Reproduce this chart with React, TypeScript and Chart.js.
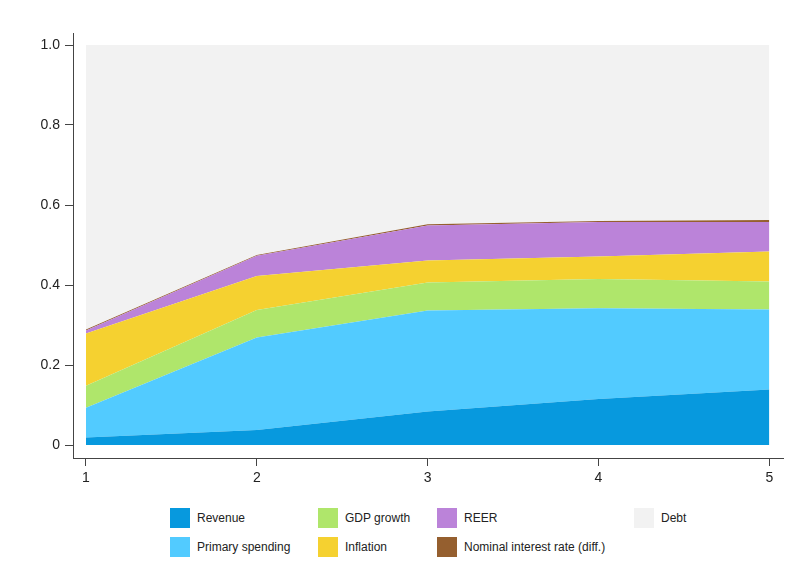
import React, { useEffect, useRef } from "react";
import { Chart, registerables } from "chart.js";

Chart.register(...registerables);

const horizons = [1, 2, 3, 4, 5];
const revenue = [0.019, 0.0375, 0.084, 0.115, 0.139];
const primarySpending = [0.074, 0.2315, 0.252, 0.227, 0.2];
const gdpGrowth = [0.055, 0.0685, 0.07, 0.073, 0.07];
const inflation = [0.131, 0.085, 0.055, 0.056, 0.075];
const reer = [0.007, 0.0505, 0.088, 0.0865, 0.0735];
const nominalRate = [0.003, 0.002, 0.003, 0.0025, 0.005];
const debt = horizons.map(
  (_, i) =>
    1 - revenue[i] - primarySpending[i] - gdpGrowth[i] - inflation[i] - reer[i] - nominalRate[i]
);
const yTicks = [0, 0.2, 0.4, 0.6, 0.8, 1.0];

const series = [
  { label: "Revenue", data: revenue, color: "#0799de" },
  { label: "Primary spending", data: primarySpending, color: "#52cbff" },
  { label: "GDP growth", data: gdpGrowth, color: "#afe66b" },
  { label: "Inflation", data: inflation, color: "#f5d130" },
  { label: "REER", data: reer, color: "#bb83d9" },
  { label: "Nominal interest rate (diff.)", data: nominalRate, color: "#955f2f" },
  { label: "Debt", data: debt, color: "#f2f2f2" },
];

const legendLayout = [
  { idx: 0, x: 170, y: 508 },
  { idx: 1, x: 170, y: 537 },
  { idx: 2, x: 318, y: 508 },
  { idx: 3, x: 318, y: 537 },
  { idx: 4, x: 437, y: 508 },
  { idx: 5, x: 437, y: 537 },
  { idx: 6, x: 634, y: 508 },
];

export default function App() {
  const ref = useRef<HTMLCanvasElement | null>(null);

  useEffect(() => {
    if (!ref.current) return;
    const chart = new Chart(ref.current, {
      type: "line",
      data: {
        datasets: series.map((s, i) => ({
          label: s.label,
          data: horizons.map((h, j) => ({ x: h, y: s.data[j] })),
          backgroundColor: s.color,
          borderColor: "rgba(0,0,0,0)",
          borderWidth: 0,
          pointRadius: 0,
          fill: i === 0 ? "origin" : "-1",
          tension: 0,
        })),
      },
      options: {
        animation: false,
        responsive: false,
        maintainAspectRatio: false,
        layout: { padding: { top: 33, right: 7, left: 0, bottom: 0 } },
        plugins: {
          legend: { display: false },
          tooltip: { enabled: false },
        },
        scales: {
          x: {
            type: "linear",
            min: 0.924,
            max: 5.08,
            afterBuildTicks: (scale: any) => {
              scale.ticks = horizons.map((v) => ({ value: v }));
            },
            afterFit: (scale: any) => {
              scale.height = 42;
            },
            grid: {
              drawOnChartArea: false,
              drawTicks: true,
              tickLength: 8,
              color: "#444",
            },
            border: { display: true, color: "#444", width: 1 },
            ticks: {
              color: "#222",
              font: { family: "Liberation Sans, Arial, sans-serif", size: 14 },
              padding: 4,
              maxRotation: 0,
              callback: (v: any) => String(v),
            },
          },
          y: {
            type: "linear",
            stacked: true,
            min: -0.0325,
            max: 1.03,
            afterBuildTicks: (scale: any) => {
              scale.ticks = yTicks.map((v) => ({ value: v }));
            },
            afterFit: (scale: any) => {
              scale.width = 73;
            },
            grid: {
              drawOnChartArea: false,
              drawTicks: true,
              tickLength: 8,
              color: "#444",
            },
            border: { display: true, color: "#444", width: 1 },
            ticks: {
              color: "#222",
              font: { family: "Liberation Sans, Arial, sans-serif", size: 14 },
              padding: 5,
              callback: (v: any) => (v === 0 ? "0" : Number(v).toFixed(1)),
            },
          },
        },
      },
    });
    return () => chart.destroy();
  }, []);

  return (
    <div
      style={{
        position: "fixed",
        left: 0,
        top: 0,
        width: 790,
        height: 583,
        background: "#fff",
        fontFamily: "Liberation Sans, Arial, sans-serif",
      }}
    >
      <canvas ref={ref} width={790} height={500} style={{ display: "block" }} />
      {legendLayout.map(({ idx, x, y }) => (
        <div
          key={idx}
          style={{
            position: "absolute",
            left: x,
            top: y,
            height: 20,
            display: "flex",
            alignItems: "center",
            whiteSpace: "nowrap",
          }}
        >
          <div style={{ width: 20, height: 20, background: series[idx].color }} />
          <span style={{ marginLeft: 7, fontSize: 12, color: "#222" }}>{series[idx].label}</span>
        </div>
      ))}
    </div>
  );
}
